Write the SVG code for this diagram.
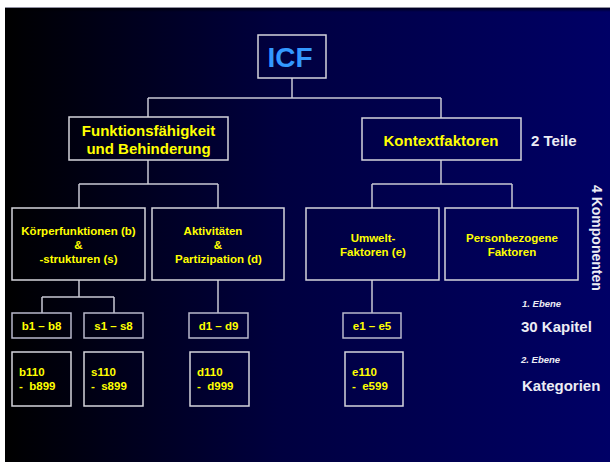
<svg xmlns="http://www.w3.org/2000/svg" width="610" height="462" viewBox="0 0 610 462">
<defs>
<linearGradient id="bg" x1="0" y1="0" x2="1" y2="0">
<stop offset="0" stop-color="#000000"/>
<stop offset="0.45" stop-color="#00003f"/>
<stop offset="1" stop-color="#000066"/>
</linearGradient>
<linearGradient id="topshade" x1="0" y1="0" x2="0" y2="1">
<stop offset="0" stop-color="#000000" stop-opacity="0.8"/>
<stop offset="1" stop-color="#000000" stop-opacity="0"/>
</linearGradient>
</defs>
<style>
.box{fill:none;stroke:#d4d4dc;stroke-width:1.5}
.sbox{fill:none;stroke:#b8b8cc;stroke-width:1.5}
.con{fill:none;stroke:#c8c8d4;stroke-width:1.5}
.y{fill:#ffff00;font-family:"Liberation Sans",Arial,sans-serif;font-weight:bold}
.w{fill:#ececf4;font-family:"Liberation Sans",Arial,sans-serif;font-weight:bold}
.m{text-anchor:middle}
.pre{white-space:pre}
</style>
<rect x="0" y="0" width="610" height="462" fill="#ffffff"/>
<rect x="5" y="7" width="605" height="455" fill="url(#bg)"/>
<rect x="5" y="7" width="605" height="5" fill="url(#topshade)"/>
<line x1="5" y1="7.5" x2="610" y2="7.5" stroke="#9090a0" stroke-width="1"/>

<g id="connectors">
<path class="con" d="M292 78V98M148 98H441M148 98V117M441 98V118"/>
<path class="con" d="M148 160V184M79 184H218M79 184V208M218 184V208"/>
<path class="con" d="M441 160V184M372 184H512M372 184V208M512 184V208"/>
<path class="con" d="M79 280V297M42 297H114M42 297V313M114 297V313"/>
<path class="con" d="M218 280V313M372 280V313"/>
</g>

<g id="icf">
<rect class="box" x="258" y="35" width="68" height="43"/>
<text x="290" y="67" class="m" font-family="Liberation Sans,Arial,sans-serif" font-weight="bold" font-size="28" fill="#3399ff">ICF</text>
</g>

<g id="funktion">
<rect class="box" x="69" y="117" width="159" height="43"/>
<text class="y m" font-size="15" x="148.5" y="135.5">Funktionsfähigkeit</text>
<text class="y m" font-size="15" x="148.5" y="153.5">und Behinderung</text>
</g>

<g id="kontext">
<rect class="box" x="362" y="118" width="159" height="42"/>
<text class="y m" font-size="15" x="441" y="145.5">Kontextfaktoren</text>
</g>

<g id="koerper">
<rect class="box" x="12" y="208" width="133" height="72"/>
<text class="y m" font-size="11.5" x="78.5" y="235">Körperfunktionen (b)</text>
<text class="y m" font-size="11.5" x="78.5" y="249">&amp;</text>
<text class="y m" font-size="11.5" x="78.5" y="263">-strukturen (s)</text>
</g>

<g id="aktiv">
<rect class="box" x="152" y="208" width="132" height="72"/>
<text class="y m" font-size="11.5" x="213" y="235">Aktivitäten</text>
<text class="y m" font-size="11.5" x="218" y="249">&amp;</text>
<text class="y m" font-size="11.5" x="218.5" y="263">Partizipation (d)</text>
</g>

<g id="umwelt">
<rect class="box" x="306" y="208" width="133" height="72"/>
<text class="y m" font-size="11.5" x="373" y="242">Umwelt-</text>
<text class="y m" font-size="11.5" x="373" y="255.5">Faktoren (e)</text>
</g>

<g id="person">
<rect class="box" x="445" y="208" width="133" height="72"/>
<text class="y m" font-size="11.5" x="512" y="242">Personbezogene</text>
<text class="y m" font-size="11.5" x="512" y="255.5">Faktoren</text>
</g>

<g id="b1b8">
<rect class="sbox" x="12" y="313" width="59" height="25"/>
<text class="y m" font-size="11.5" x="41.5" y="330">b1 – b8</text>
</g>
<g id="s1s8">
<rect class="sbox" x="84" y="313" width="59" height="25"/>
<text class="y m" font-size="11.5" x="113.5" y="330">s1 – s8</text>
</g>
<g id="d1d9">
<rect class="sbox" x="189" y="313" width="59" height="25"/>
<text class="y m" font-size="11.5" x="218.5" y="330">d1 – d9</text>
</g>
<g id="e1e5">
<rect class="sbox" x="343" y="313" width="58" height="25"/>
<text class="y m" font-size="11.5" x="372" y="330">e1 – e5</text>
</g>

<g id="b110">
<rect class="box" x="12" y="352" width="59" height="54"/>
<text class="y pre" font-size="11.5" x="19" y="376">b110</text>
<text class="y pre" font-size="11.5" x="19" y="390">-  b899</text>
</g>
<g id="s110">
<rect class="box" x="84" y="352" width="59" height="54"/>
<text class="y pre" font-size="11.5" x="91" y="376">s110</text>
<text class="y pre" font-size="11.5" x="91" y="390">-  s899</text>
</g>
<g id="d110">
<rect class="box" x="190" y="352" width="59" height="54"/>
<text class="y pre" font-size="11.5" x="197" y="376">d110</text>
<text class="y pre" font-size="11.5" x="197" y="390">-  d999</text>
</g>
<g id="e110">
<rect class="box" x="345" y="352" width="58" height="54"/>
<text class="y pre" font-size="11.5" x="352" y="376">e110</text>
<text class="y pre" font-size="11.5" x="352" y="390">-  e599</text>
</g>

<g id="labels">
<text class="w" font-size="15" x="531" y="145.5">2 Teile</text>
<text class="w" font-size="14" transform="translate(592,185) rotate(90)">4 Komponenten</text>
<text class="w" font-size="9.5" font-style="italic" x="522" y="306.5">1. Ebene</text>
<text class="w" font-size="15" x="521" y="332">30 Kapitel</text>
<text class="w" font-size="9.5" font-style="italic" x="521" y="362.5">2. Ebene</text>
<text class="w" font-size="15" x="522" y="390.5">Kategorien</text>
</g>
</svg>
